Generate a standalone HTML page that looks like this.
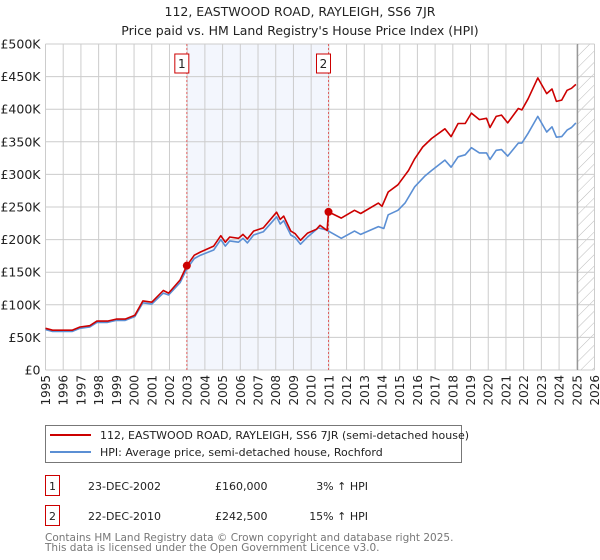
<!DOCTYPE html>
<html><head><meta charset="utf-8">
<style>
body{margin:0;background:#fff;width:600px;height:560px;overflow:hidden;font-family:"DejaVu Sans","Liberation Sans",sans-serif;}
svg{position:absolute;left:0;top:0}
text{font-family:"DejaVu Sans","Liberation Sans",sans-serif;}
</style></head><body>
<svg id="c" width="600" height="560"></svg>
<script>
const redYears=[1995.0,1995.4,1996.5,1996.95,1997.5,1997.9,1998.5,1999.0,1999.5,2000.05,2000.5,2001.0,2001.65,2001.95,2002.6,2002.98,2003.4,2003.75,2004.5,2004.9,2005.15,2005.4,2005.9,2006.15,2006.4,2006.75,2007.3,2008.05,2008.25,2008.45,2008.85,2009.1,2009.4,2009.8,2010.3,2010.5,2010.9,2010.98,2011.7,2012.45,2012.8,2013.8,2014.0,2014.35,2014.9,2015.5,2015.85,2016.3,2016.8,2017.55,2017.9,2018.3,2018.7,2019.05,2019.5,2019.9,2020.1,2020.45,2020.75,2021.1,2021.7,2021.9,2022.25,2022.8,2023.3,2023.6,2023.85,2024.15,2024.45,2024.7,2024.95];
const redVals=[64,61,61,66,68,75,75,78,78,84,106,104,122,118,138,160,176,181,190,206,196,204,202,208,201,213,218,242,231,236,213,209,199,210,216,222,214,242.5,233,245,240,256,251,273,284,306,324,342,355,370,358,378,378,394,384,386,372,389,391,379,401,399,416,448,424,431,412,414,429,432,438];
const hpiYears=[1995.0,1995.4,1996.5,1996.95,1997.5,1997.9,1998.5,1999.0,1999.5,2000.05,2000.5,2001.0,2001.65,2001.95,2002.6,2002.98,2003.4,2003.75,2004.5,2004.9,2005.15,2005.4,2005.9,2006.15,2006.4,2006.75,2007.3,2008.05,2008.25,2008.45,2008.85,2009.1,2009.4,2009.8,2010.4,2010.85,2011.7,2012.45,2012.8,2013.8,2014.1,2014.35,2014.9,2015.3,2015.85,2016.4,2016.8,2017.55,2017.9,2018.3,2018.7,2019.05,2019.5,2019.9,2020.1,2020.45,2020.75,2021.1,2021.7,2021.9,2022.25,2022.8,2023.3,2023.6,2023.85,2024.15,2024.45,2024.7,2024.95];
const hpiVals=[62,59,59,64,66,73,73,76,76,82,103,101,118,115,134,155,171,176,184,200,190,198,196,202,195,207,212,235,224,229,207,203,193,204,218,215,202,213,208,220,217,238,245,256,281,297,306,322,311,327,330,341,333,333,323,337,338,328,348,348,363,389,365,373,357,358,368,372,379];
const yTicks=[0,50,100,150,200,250,300,350,400,450,500];
const yTickLabels=["£0","£50K","£100K","£150K","£200K","£250K","£300K","£350K","£400K","£450K","£500K"];
const xTicks=[1995,1996,1997,1998,1999,2000,2001,2002,2003,2004,2005,2006,2007,2008,2009,2010,2011,2012,2013,2014,2015,2016,2017,2018,2019,2020,2021,2022,2023,2024,2025,2026];
const saleYears=[2002.98,2010.98];
const saleVals=[160,242.5];
const saleLabels=["1","2"];

const L=45.5,R=594.5,T=44,B=370;
const xS=y=>L+(y-1995)/(2026-1995)*(R-L);
const yS=v=>B-v/500*(B-T);
const svg=document.getElementById('c');
const NS='http://www.w3.org/2000/svg';
function mk(tag,attrs,parent){const e=document.createElementNS(NS,tag);for(const k in attrs)e.setAttribute(k,attrs[k]);(parent||svg).appendChild(e);return e;}

const defs=mk('defs',{});
const pat=mk('pattern',{id:'hatch',width:8,height:8,patternUnits:'userSpaceOnUse',patternTransform:'rotate(45)'},defs);
mk('line',{x1:0,y1:0,x2:0,y2:8,stroke:'#bbb','stroke-width':1},pat);

let sh=mk('rect',{x:xS(saleYears[0]),y:T,width:xS(saleYears[1])-xS(saleYears[0]),height:B-T,fill:'#f3f6fd'});


let ht=mk('rect',{x:xS(2025.05),y:T,width:R-xS(2025.05),height:B-T,fill:'url(#hatch)'});



yTicks.forEach((v,i)=>{
  const g=mk('line',{x1:L,x2:R,y1:yS(v),y2:yS(v),stroke:'#cccccc','stroke-width':1});
  
  
  const t=mk('text',{x:L-5,y:yS(v)+4.5,'text-anchor':'end','font-size':12.5,fill:'#222'});
  t.textContent=yTickLabels[i];
  
  
});
xTicks.forEach(y=>{
  const g=mk('line',{x1:xS(y),x2:xS(y),y1:T,y2:B,stroke:'#cccccc','stroke-width':1});
  
  
  const t=mk('text',{x:0,y:0,'text-anchor':'end','font-size':12,fill:'#222',transform:`translate(${xS(y)+4.5},${B+5}) rotate(-90)`});
  t.textContent=y;
  
  
});
let vl=mk('line',{x1:xS(2025.05),x2:xS(2025.05),y1:T,y2:B,stroke:'#888','stroke-width':1});



saleYears.forEach((y,i)=>{
  const l=mk('line',{x1:xS(y),x2:xS(y),y1:T,y2:B,stroke:'#e06060','stroke-width':1,'stroke-dasharray':'2,2'});
  
  
  const r=mk('rect',{x:xS(y)-12,y:54,width:14,height:19,fill:'#fff',stroke:'#cc0000','stroke-width':1});
  
  
  const t=mk('text',{x:xS(y)-5,y:68,'text-anchor':'middle','font-size':12,fill:'#222'});
  t.textContent=saleLabels[i];
  
  
});

function path(xs,vs,color,name){
  const d=xs.map((x,i)=>(i?'L':'M')+xS(x).toFixed(1)+','+yS(vs[i]).toFixed(1)).join('');
  const p=mk('path',{d:d,fill:'none',stroke:color,'stroke-width':1.6,'stroke-linejoin':'round'});
  
  
}
path(hpiYears,hpiVals,'#5b8fd4','hpi-line');
path(redYears,redVals,'#cc0000','price-line');
saleYears.forEach((y,i)=>{
  const c=mk('circle',{cx:xS(y),cy:yS(saleVals[i]),r:4,fill:'#cc0000'});
  
  
});
</script>
<svg width="600" height="560" style="pointer-events:none">
<text x="300" y="16" text-anchor="middle" font-size="12.5" fill="#222">112, EASTWOOD ROAD, RAYLEIGH, SS6 7JR</text>
<text x="300" y="35" text-anchor="middle" font-size="12.5" fill="#222">Price paid vs. HM Land Registry's House Price Index (HPI)</text>
<g>
<rect x="45.5" y="425.5" width="416" height="37" fill="#fff" stroke="#777" stroke-width="1"/>
<line x1="50" x2="91" y1="435" y2="435" stroke="#cc0000" stroke-width="2"/>
<text x="100" y="439" font-size="11" fill="#222">112, EASTWOOD ROAD, RAYLEIGH, SS6 7JR (semi-detached house)</text>
<line x1="50" x2="91" y1="452" y2="452" stroke="#5b8fd4" stroke-width="2"/>
<text x="100" y="456" font-size="11" fill="#222">HPI: Average price, semi-detached house, Rochford</text>
</g>
<g>
<rect x="45.5" y="475.5" width="14" height="20" fill="#fff" stroke="#cc0000"/>
<text x="52.5" y="490" text-anchor="middle" font-size="11" fill="#222">1</text>
<text x="88" y="490" font-size="11" fill="#222">23-DEC-2002</text>
<text x="215" y="490" font-size="11" fill="#222">£160,000</text>
<text x="368" y="490" text-anchor="end" font-size="11" fill="#222">3% ↑ HPI</text>
</g>
<g>
<rect x="45.5" y="505.5" width="14" height="20" fill="#fff" stroke="#cc0000"/>
<text x="52.5" y="520" text-anchor="middle" font-size="11" fill="#222">2</text>
<text x="88" y="520" font-size="11" fill="#222">22-DEC-2010</text>
<text x="215" y="520" font-size="11" fill="#222">£242,500</text>
<text x="368" y="520" text-anchor="end" font-size="11" fill="#222">15% ↑ HPI</text>
</g>
<text x="45" y="541" font-size="10.5" fill="#777">Contains HM Land Registry data © Crown copyright and database right 2025.</text>
<text x="45" y="551" font-size="10.5" fill="#777">This data is licensed under the Open Government Licence v3.0.</text>
</svg>
</body></html>
